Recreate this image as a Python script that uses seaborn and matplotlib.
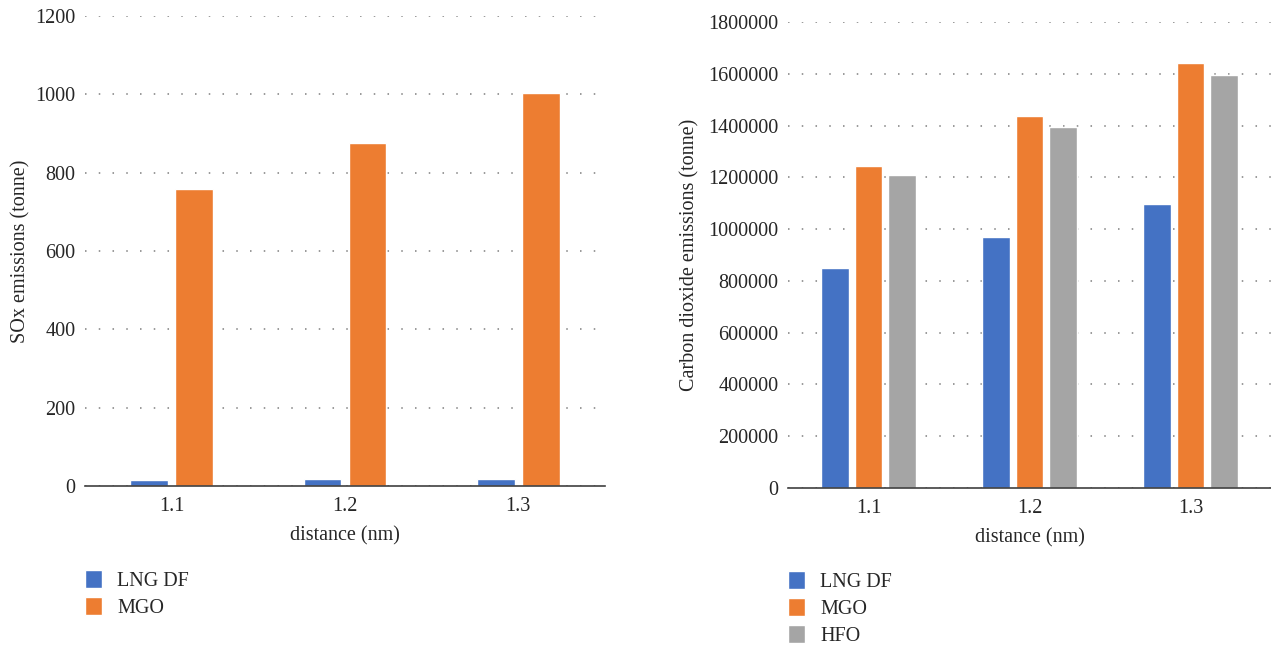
import pandas as pd
import seaborn as sns
import matplotlib.pyplot as plt
from matplotlib.ticker import FuncFormatter, MultipleLocator

# values
distances = ['1.1', '1.2', '1.3']
fuels_sox = ['LNG DF', 'MGO']
sox_lng = [15, 19, 19]
sox_mgo = [758, 876, 1003]

fuels_co2 = ['LNG DF', 'MGO', 'HFO']
co2_lng = [848000, 970000, 1098000]
co2_mgo = [1245000, 1437000, 1641000]
co2_hfo = [1207000, 1393000, 1596000]

colors = ['#4472C4', '#ED7D31', '#A5A5A5']

sns.set_style('white')
plt.rcParams['font.family'] = ['Liberation Serif', 'DejaVu Serif']
plt.rcParams['text.color'] = '#262626'
plt.rcParams['axes.labelcolor'] = '#262626'
plt.rcParams['xtick.color'] = '#262626'
plt.rcParams['ytick.color'] = '#262626'

df_sox = pd.DataFrame({
    'distance': distances * 2,
    'fuel': [fuels_sox[0]] * 3 + [fuels_sox[1]] * 3,
    'value': sox_lng + sox_mgo,
})
df_co2 = pd.DataFrame({
    'distance': distances * 3,
    'fuel': [fuels_co2[0]] * 3 + [fuels_co2[1]] * 3 + [fuels_co2[2]] * 3,
    'value': co2_lng + co2_mgo + co2_hfo,
})

fig = plt.figure(figsize=(12.71, 6.46), dpi=100)
ax1 = fig.add_axes([0.0669, 0.2477, 0.409, 0.7276])
ax2 = fig.add_axes([0.620, 0.2446, 0.380, 0.7214])

sns.barplot(data=df_sox, x='distance', y='value', hue='fuel', palette=colors[:2],
            width=0.52, gap=0.16, ax=ax1, saturation=1)
sns.barplot(data=df_co2, x='distance', y='value', hue='fuel', palette=colors,
            width=0.62, gap=0.16, ax=ax2, saturation=1)

fmt = FuncFormatter(lambda v, _: f'{int(v)}')
fs = 14.5
for ax, ymax, step, ylab, lpad in [(ax1, 1200, 200, 'SOx emissions (tonne)', 3),
                                   (ax2, 1800000, 200000, 'Carbon dioxide emissions (tonne)', 6)]:
    ax.set_ylim(0, ymax)
    ax.yaxis.set_major_locator(MultipleLocator(step))
    ax.yaxis.set_major_formatter(fmt)
    ax.set_axisbelow(True)
    ax.grid(axis='y', color='#7f7f7f', linestyle=(0, (1, 8)), linewidth=1.1)
    for s in ['top', 'right', 'left']:
        ax.spines[s].set_visible(False)
    ax.spines['bottom'].set_color('#404040')
    ax.spines['bottom'].set_linewidth(1.2)
    ax.tick_params(axis='y', length=0, labelsize=fs, pad=7)
    ax.tick_params(axis='x', length=0, labelsize=fs, pad=8)
    ax.set_xlabel('distance (nm)', fontsize=fs, labelpad=7)
    ax.set_ylabel(ylab, fontsize=fs, labelpad=lpad)
    sns.move_legend(ax, 'upper left', bbox_to_anchor=(0, -0.178), frameon=False,
                    title=None, fontsize=fs, handlelength=0.85, handleheight=1.0,
                    handletextpad=0.75, labelspacing=0.3, borderaxespad=0, borderpad=0)

fig.savefig('out.png', dpi=100)
